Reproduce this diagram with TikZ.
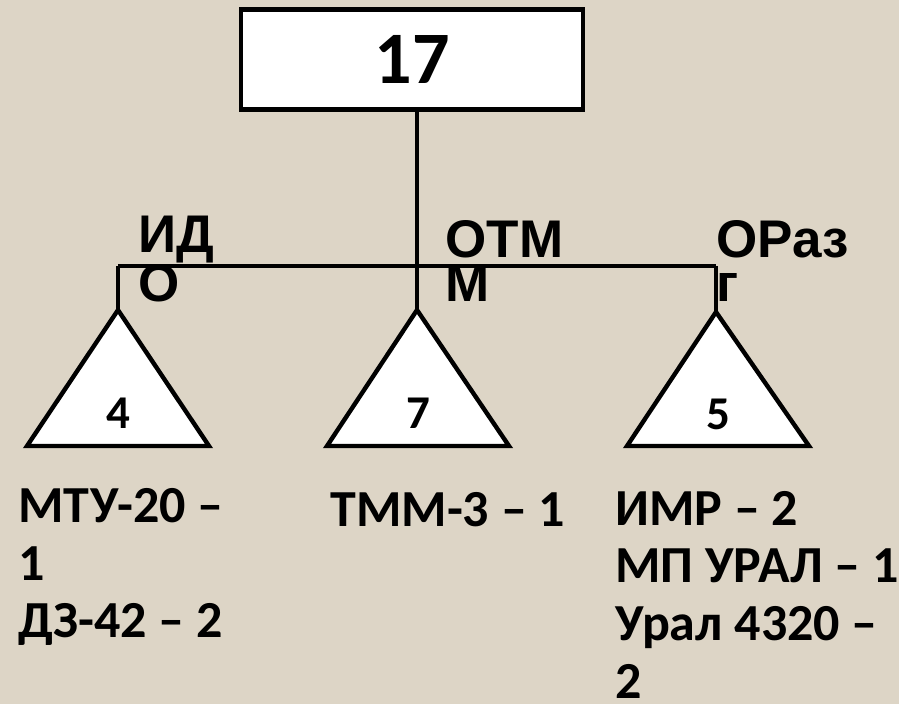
\documentclass[tikz,border=0pt]{standalone}
\usepackage{fontspec}
\setmainfont{Carlito}
\newfontfamily\arialfont{Liberation Sans}
\usepackage{tikz}
\definecolor{bg}{RGB}{221, 213, 198}
\usetikzlibrary{positioning}

\tikzset{
  wire/.style={line width=2pt, color=black},
  tri/.style={line width=2.2pt, draw=black, fill=white, line join=miter},
  cnt/.style={inner sep=0pt, anchor=base, font=\bfseries\fontsize{23.5}{23.5}\selectfont},
  lbl/.style={inner sep=0pt, anchor=base west, align=left, font=\arialfont\bfseries\fontsize{26.5}{22}\selectfont},
  lst/.style={inner sep=0pt, anchor=base west, align=left, font=\bfseries\fontsize{26}{28.8}\selectfont}
}

\begin{document}
\begin{tikzpicture}[scale=0.5]
\useasboundingbox (0pt, 0pt) rectangle (899pt, -704pt);
\fill [bg] (0pt, 0pt) rectangle (899pt, -704pt);
% top box
\node (top) [rectangle, minimum width=171pt, minimum height=50pt, fill=white, line width=2.2pt, draw=black, font=\bfseries\fontsize{37}{37}\selectfont] at (412pt, -59.5pt) {17};
% bus and apexes
\coordinate (busl) at (118pt, -266pt);
\coordinate (busm) at (417pt, -266pt);
\coordinate (busr) at (716pt, -266pt);
\coordinate (a1) at (118pt, -310pt);
\coordinate (a2) at (417pt, -310pt);
\coordinate (a3) at (716pt, -312pt);
\draw [wire] (top.south -| busm) to (busm);
\draw [wire] (busl) to (busr);
\draw [wire] (busl) to (a1);
\draw [wire] (busm) to (a2);
\draw [wire] (busr) to (a3);
% triangles
\draw [tri] (a1) -- (27pt, -446pt) -- (209pt, -446pt) -- cycle;
\draw [tri] (a2) -- (327pt, -446pt) -- (509pt, -446pt) -- cycle;
\draw [tri] (a3) -- (627pt, -446pt) -- (809pt, -446pt) -- cycle;
\node (n1) [cnt] at (118pt, -429pt) {4};
\node (n2) [cnt] at (418pt, -429pt) {7};
\node (n3) [cnt] at (718pt, -430pt) {5};
% branch labels
\node (ido) [lbl] at (138pt, -302pt) {ИД\\О};
\node (otm) [lbl] at (445pt, -302pt) {ОТМ\\М};
\node (oraz) [lbl] at (716pt, -302pt) {ОРаз\\г};
% lists
\node (l1) [lst] at (18pt, -638pt) {МТУ-20 –\\1\\ДЗ-42 – 2};
\node (l2) [lst] at (330pt, -527pt) {ТММ-3 – 1};
\node (l3) [lst] at (615pt, -698pt) {ИМР – 2\\МП УРАЛ – 1\\Урал 4320 –\\2};
\end{tikzpicture}
\end{document}
